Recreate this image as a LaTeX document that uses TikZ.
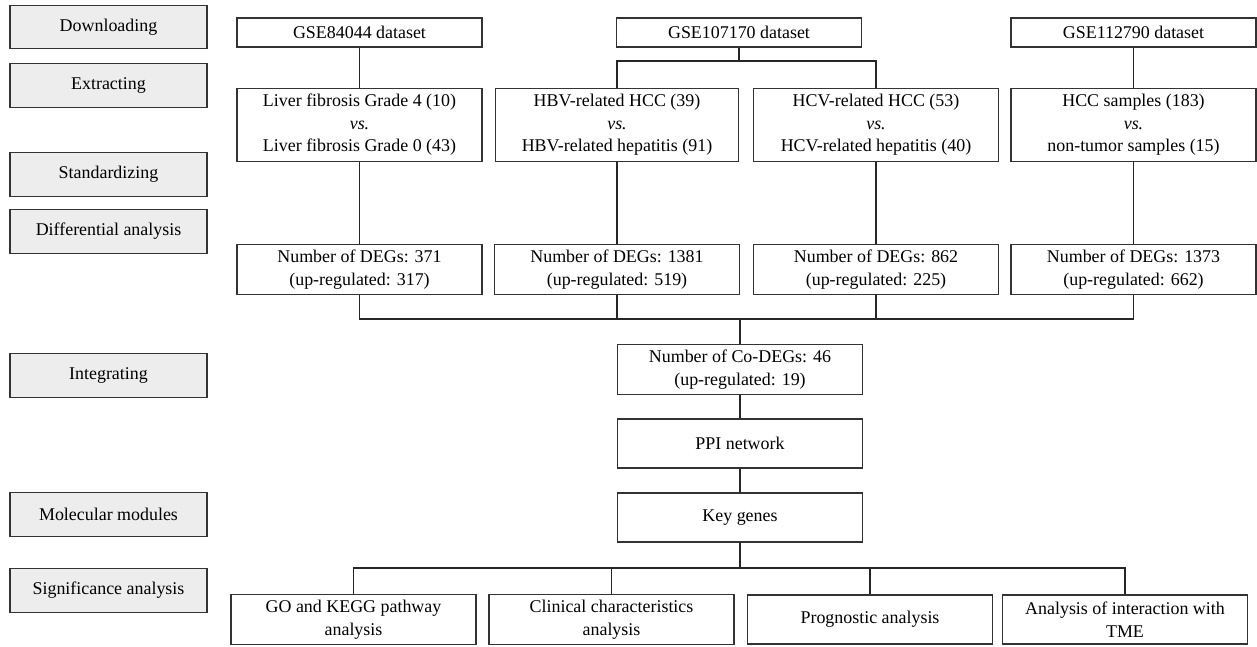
\documentclass[tikz,border=0pt]{standalone}
\usepackage{fontspec}
\setmainfont{Liberation Serif}
\usetikzlibrary{positioning}
\definecolor{stagefill}{HTML}{EDEDED}
\tikzstyle{stage} = [rectangle, draw=black!80, fill=stagefill, 
    minimum width=3.94cm, minimum height=0.87cm, text centered]
\tikzstyle{box} = [rectangle, draw=black!80, fill=white, 
    minimum width=4.9cm, minimum height=0.98cm, align=center]
\tikzstyle{head} = [box, minimum height=0.58cm]
\tikzstyle{pair} = [box, minimum height=1.44cm]
\tikzstyle{link} = [draw=black!85]

\begin{document}
\begin{tikzpicture}[x=0.02cm,y=-0.02cm,line width=0.7pt,node distance=1.48cm,
                    font=\fontsize{10.2}{12.8}\selectfont,
                    every edge/.style={link}]
  \useasboundingbox (0,0) rectangle (1257,646);

  % steps on the left
  \node[stage] (s1) at (108.5,27)    {Downloading};
  \node[stage] (s2) at (108.5,85.5)  {Extracting};
  \node[stage] (s3) at (108.5,174.5) {Standardizing};
  \node[stage] (s4) at (108.5,231.5) {Differential analysis};
  \node[stage] (s5) at (108.5,375.5) {Integrating};
  \node[stage] (s6) at (108.5,514.5) {Molecular modules};
  \node[stage] (s7) at (108.5,590.5) {Significance analysis};

  % datasets
  \node[head] (d1) at (359.5,32.5)  {GSE84044 dataset};
  \node[head] (d2) at (739,32.5)    {GSE107170 dataset};
  \node[head] (d3) at (1133.5,32.5) {GSE112790 dataset};

  % groups compared
  \node[pair] (fib) at (359.5,125)  {Liver fibrosis Grade 4 (10)\\\textit{vs.}\\Liver fibrosis Grade 0 (43)};
  \node[pair,minimum width=4.86cm] (hbv) at (617,125) {HBV-related HCC (39)\\\textit{vs.}\\HBV-related hepatitis (91)};
  \node[pair] (hcv) at (876,125)    {HCV-related HCC (53)\\\textit{vs.}\\HCV-related hepatitis (40)};
  \node[pair] (hcc) at (1133.5,125) {HCC samples (183)\\\textit{vs.}\\non-tumor samples (15)};

  % DEGs
  \node[box] (n1) at (359.5,269.5)  {Number of DEGs: 371\\(up-regulated: 317)};
  \node[box] (n2) at (617,269.5)    {Number of DEGs: 1381\\(up-regulated: 519)};
  \node[box] (n3) at (876,269.5)    {Number of DEGs: 862\\(up-regulated: 225)};
  \node[box] (n4) at (1133.5,269.5) {Number of DEGs: 1373\\(up-regulated: 662)};

  % common part
  \node[box]  (codeg) at (740,369.5) {Number of Co-DEGs: 46\\(up-regulated: 19)};
  \node[box]  (ppi)  [below of=codeg] {PPI network};
  \node[box]  (keyg) [below of=ppi]   {Key genes};

  % analyses
  \node[box] (go)   at (353.5,619.5) {GO and KEGG pathway\\analysis};
  \node[box] (clin) at (611.5,619.5) {Clinical characteristics\\analysis};
  \node[box] (prog) at (870,619.5)   {Prognostic analysis};
  \node[box] (tme)  at (1125,619.5)  {Analysis of interaction with\\TME};

  \coordinate (split) at (739,61);
  \coordinate (join)  at (740,319);
  \coordinate (fan)   at (740,568);

  \path (d1)    edge (fib)
        (fib)   edge (n1)
        (d3)    edge (hcc)
        (hcc)   edge (n4)
        (hbv)   edge (n2)
        (hcv)   edge (n3)
        (d2)    edge (split)
        (join)  edge (codeg)
        (codeg) edge (ppi)
        (ppi)   edge (keyg)
        (keyg)  edge (fan);

  \draw[link] (hbv.north) |- (split) -| (hcv.north);
  \draw[link] (n1.south) |- (join) -| (n4.south);
  \draw[link] (n2.south) |- (join);
  \draw[link] (n3.south) |- (join);
  \draw[link] (go.north) |- (fan) -| (tme.north);
  \draw[link] (clin.north) |- (fan);
  \draw[link] (prog.north) |- (fan);
\end{tikzpicture}
\end{document}
